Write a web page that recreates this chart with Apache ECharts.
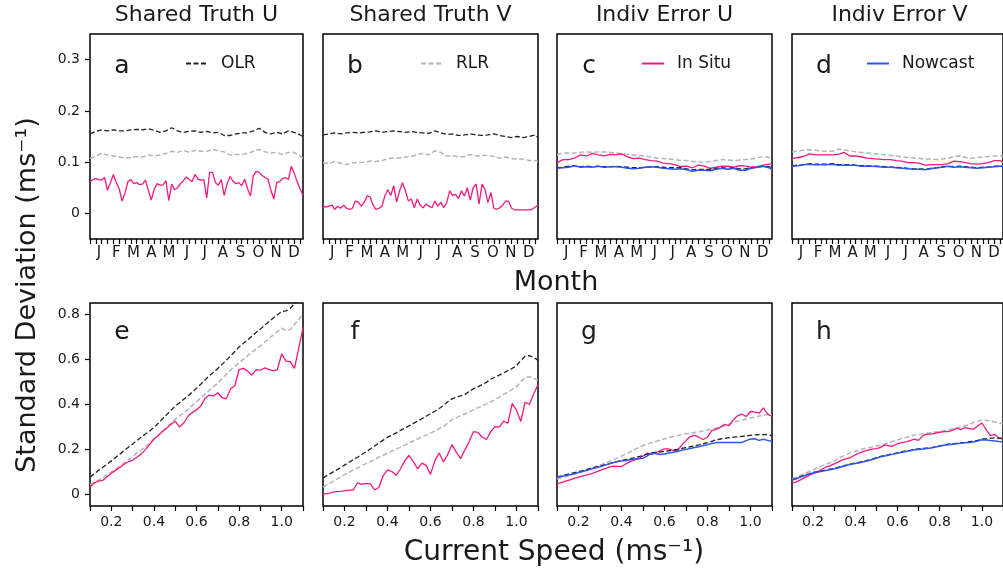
<!DOCTYPE html>
<html><head><meta charset="utf-8">
<script src="https://cdn.jsdelivr.net/npm/echarts@6/dist/echarts.min.js"></script>
<style>html,body{margin:0;padding:0;background:#fff}#c{width:1003px;height:571px}</style>
</head><body><div id="c"></div>
<script>
// ---------- axes / categories ----------
const panelTitles = ['Shared Truth U', 'Shared Truth V', 'Indiv Error U', 'Indiv Error V'];
const panelLetters = ['a', 'b', 'c', 'd', 'e', 'f', 'g', 'h'];
const monthLabels = ['J','F','M','A','M','J','J','A','S','O','N','D'];
const monthCenters = [15.5,45,74.5,105,135.5,166,196.5,227.5,258,288.5,319,349.5];
const dayTicks = [0,10,20,30,40,50,60,70,80,90,100,110,120,130,140,150,160,170,180,190,200,210,220,230,240,250,260,270,280,290,300,310,320,330,340,350,360];
const dayFine = [0,5,10,15,20,25,30,35,40,45,50,55,60,65,70,75,80,85,90,95,100,105,110,115,120,125,130,135,140,145,150,155,160,165,170,175,180,185,190,195,200,205,210,215,220,225,230,235,240,245,250,255,260,265,270,275,280,285,290,295,300,305,310,315,320,325,330,335,340,345,350,355,360,365];
const dayCoarse = [0,10,20,30,40,50,60,70,80,90,100,110,120,130,140,150,160,170,180,190,200,210,220,230,240,250,260,270,280,290,300,310,320,330,340,350,360,365];
const speeds = [0.10,0.12,0.14,0.16,0.18,0.20,0.22,0.24,0.26,0.28,0.30,0.32,0.34,0.36,0.38,0.40,0.42,0.44,0.46,0.48,0.50,0.52,0.54,0.56,0.58,0.60,0.62,0.64,0.66,0.68,0.70,0.72,0.74,0.76,0.78,0.80,0.82,0.84,0.86,0.88,0.90,0.92,0.94,0.96,0.98,1.00,1.02,1.04,1.06,1.08,1.10];
const speedTicks = [0.1,0.2,0.3,0.4,0.5,0.6,0.7,0.8,0.9,1.0,1.1];
const speedLabels = [0.2,0.4,0.6,0.8,1.0];
const topYTicks = [0,0.1,0.2,0.3];
const botYTicks = [0,0.2,0.4,0.6,0.8];

// ---------- top row: std dev vs day of year ----------
const aOLR = [0.155,0.160,0.163,0.161,0.163,0.161,0.161,0.163,0.164,0.163,0.165,0.162,0.158,0.161,0.167,0.161,0.158,0.160,0.161,0.158,0.160,0.157,0.158,0.152,0.152,0.155,0.157,0.157,0.161,0.166,0.158,0.155,0.158,0.155,0.161,0.158,0.153,0.150];
const aRLR = [0.107,0.112,0.117,0.114,0.112,0.110,0.108,0.109,0.111,0.110,0.114,0.112,0.114,0.117,0.121,0.119,0.123,0.119,0.123,0.121,0.121,0.125,0.122,0.120,0.114,0.115,0.115,0.117,0.121,0.125,0.120,0.118,0.119,0.115,0.119,0.119,0.112,0.107];
const aIns = [0.062,0.066,0.068,0.066,0.065,0.070,0.045,0.060,0.076,0.060,
  0.048,0.024,0.040,0.062,0.066,0.058,0.060,0.056,0.057,0.065,
  0.045,0.026,0.047,0.058,0.055,0.055,0.064,0.025,0.057,0.046,
  0.050,0.058,0.064,0.071,0.066,0.062,0.076,0.067,0.065,0.066,
  0.030,0.080,0.080,0.060,0.055,0.066,0.035,0.058,0.072,0.063,
  0.058,0.060,0.054,0.067,0.048,0.034,0.074,0.082,0.080,0.074,
  0.070,0.067,0.045,0.028,0.060,0.062,0.068,0.070,0.066,0.092,
  0.078,0.062,0.048,0.035];
const bOLR = [0.153,0.155,0.157,0.155,0.157,0.158,0.157,0.158,0.159,0.161,0.158,0.1595,0.161,0.1595,0.158,0.1595,0.158,0.157,0.156,0.161,0.157,0.154,0.155,0.152,0.153,0.155,0.153,0.152,0.153,0.155,0.152,0.150,0.148,0.150,0.148,0.150,0.153,0.148];
const bRLR = [0.099,0.097,0.101,0.098,0.095,0.099,0.099,0.100,0.102,0.101,0.103,0.107,0.108,0.108,0.110,0.111,0.115,0.117,0.114,0.122,0.119,0.112,0.113,0.110,0.111,0.115,0.112,0.113,0.113,0.111,0.108,0.110,0.107,0.106,0.106,0.103,0.103,0.101];
const bIns = [0.014,0.012,0.014,0.016,0.008,0.014,0.010,0.016,0.010,0.008,
  0.010,0.024,0.022,0.014,0.022,0.034,0.032,0.016,0.008,0.010,
  0.014,0.034,0.046,0.035,0.054,0.022,0.044,0.060,0.044,0.024,
  0.028,0.011,0.028,0.016,0.011,0.018,0.014,0.011,0.024,0.014,
  0.022,0.011,0.021,0.044,0.035,0.037,0.029,0.044,0.034,0.050,
  0.026,0.050,0.057,0.018,0.057,0.047,0.021,0.041,0.010,0.008,
  0.011,0.016,0.024,0.024,0.010,0.007,0.007,0.007,0.007,0.007,
  0.007,0.008,0.012,0.016];
const cRLR = [0.114,0.118,0.118,0.118,0.119,0.120,0.119,0.120,0.120,0.119,0.118,0.116,0.115,0.114,0.113,0.112,0.110,0.108,0.107,0.106,0.105,0.103,0.103,0.101,0.101,0.099,0.101,0.103,0.105,0.104,0.103,0.104,0.105,0.106,0.108,0.111,0.109,0.107];
const cIns = [0.099,0.105,0.105,0.108,0.114,0.112,0.117,0.114,0.112,0.115,0.114,0.116,0.110,0.107,0.108,0.105,0.103,0.102,0.098,0.097,0.095,0.091,0.092,0.089,0.094,0.092,0.088,0.090,0.092,0.092,0.090,0.093,0.092,0.090,0.091,0.094,0.096,0.096];
const cOLR = [0.089,0.090,0.092,0.093,0.091,0.092,0.091,0.092,0.091,0.091,0.092,0.091,0.090,0.089,0.089,0.090,0.091,0.091,0.090,0.089,0.089,0.089,0.087,0.085,0.086,0.086,0.086,0.088,0.089,0.088,0.089,0.087,0.087,0.089,0.090,0.092,0.091,0.089];
const cNow = [0.088,0.089,0.090,0.093,0.090,0.091,0.090,0.092,0.090,0.091,0.091,0.090,0.088,0.087,0.088,0.090,0.091,0.090,0.088,0.087,0.086,0.087,0.085,0.082,0.084,0.084,0.083,0.086,0.088,0.086,0.088,0.084,0.084,0.088,0.090,0.092,0.089,0.086];
const dRLR = [0.120,0.122,0.123,0.124,0.123,0.122,0.121,0.121,0.125,0.124,0.122,0.120,0.119,0.118,0.117,0.116,0.114,0.113,0.112,0.110,0.109,0.108,0.107,0.106,0.106,0.105,0.106,0.107,0.111,0.112,0.109,0.107,0.109,0.110,0.111,0.112,0.112,0.111];
const dIns = [0.107,0.109,0.111,0.116,0.114,0.114,0.114,0.114,0.115,0.119,0.112,0.112,0.110,0.108,0.107,0.106,0.105,0.105,0.103,0.102,0.099,0.099,0.098,0.094,0.095,0.095,0.095,0.097,0.102,0.101,0.099,0.097,0.096,0.097,0.099,0.103,0.103,0.101];
const dOLR = [0.093,0.094,0.095,0.097,0.096,0.096,0.096,0.097,0.095,0.095,0.095,0.094,0.093,0.093,0.092,0.092,0.091,0.090,0.090,0.089,0.088,0.087,0.087,0.086,0.088,0.089,0.091,0.092,0.091,0.092,0.091,0.090,0.089,0.090,0.090,0.092,0.092,0.092];
const dNow = [0.092,0.093,0.095,0.096,0.095,0.095,0.095,0.096,0.094,0.094,0.094,0.094,0.092,0.092,0.092,0.091,0.090,0.090,0.089,0.088,0.087,0.086,0.086,0.085,0.087,0.089,0.090,0.092,0.090,0.091,0.090,0.089,0.088,0.089,0.090,0.091,0.092,0.092];

// ---------- bottom row: std dev vs current speed ----------
const eOLR = [0.078,0.093,0.108,0.122,0.136,0.150,0.165,0.180,0.195,0.210,0.225,0.240,0.255,0.269,0.283,0.298,0.317,0.336,0.355,0.374,0.393,0.408,0.423,0.438,0.455,0.472,0.490,0.509,0.527,0.543,0.560,0.578,0.596,0.615,0.635,0.655,0.671,0.687,0.703,0.719,0.735,0.751,0.767,0.783,0.798,0.812,0.815,0.825,0.848,0.875,0.900];
const eRLR = [0.045,0.055,0.065,0.076,0.088,0.100,0.114,0.128,0.142,0.156,0.170,0.184,0.198,0.213,0.229,0.245,0.263,0.281,0.299,0.317,0.335,0.349,0.363,0.378,0.395,0.412,0.429,0.446,0.463,0.479,0.495,0.515,0.535,0.553,0.569,0.585,0.601,0.617,0.632,0.646,0.660,0.676,0.692,0.708,0.723,0.738,0.728,0.732,0.755,0.778,0.800];
const eIns = [0.034,0.052,0.060,0.064,0.080,0.095,0.108,0.121,0.135,0.146,0.153,0.166,0.180,0.200,0.222,0.247,0.263,0.280,0.295,0.312,0.326,0.300,0.318,0.348,0.364,0.376,0.393,0.428,0.442,0.438,0.452,0.430,0.425,0.470,0.483,0.555,0.560,0.548,0.530,0.555,0.552,0.562,0.556,0.549,0.555,0.625,0.592,0.590,0.560,0.650,0.740];
const fOLR = [0.074,0.086,0.097,0.108,0.119,0.131,0.143,0.155,0.166,0.178,0.190,0.203,0.216,0.229,0.242,0.255,0.264,0.274,0.285,0.295,0.305,0.316,0.326,0.337,0.348,0.360,0.370,0.382,0.395,0.412,0.425,0.432,0.438,0.445,0.458,0.470,0.478,0.488,0.498,0.512,0.522,0.530,0.540,0.550,0.560,0.572,0.595,0.614,0.617,0.608,0.597];
const fRLR = [0.034,0.045,0.056,0.067,0.078,0.089,0.099,0.109,0.118,0.128,0.138,0.147,0.156,0.166,0.175,0.184,0.193,0.202,0.211,0.220,0.229,0.238,0.247,0.256,0.264,0.273,0.283,0.293,0.303,0.318,0.333,0.342,0.350,0.358,0.367,0.376,0.385,0.394,0.403,0.412,0.421,0.433,0.445,0.456,0.467,0.479,0.500,0.520,0.523,0.515,0.508];
const fIns = [0.003,0.005,0.009,0.014,0.015,0.017,0.020,0.020,0.052,0.046,0.050,0.048,0.021,0.032,0.085,0.110,0.103,0.086,0.114,0.150,0.175,0.147,0.115,0.140,0.130,0.090,0.150,0.185,0.145,0.178,0.222,0.189,0.160,0.199,0.236,0.280,0.276,0.256,0.245,0.280,0.302,0.300,0.326,0.317,0.405,0.375,0.325,0.410,0.400,0.448,0.487];
const gRLR = [0.070,0.075,0.080,0.086,0.092,0.098,0.105,0.111,0.118,0.125,0.132,0.139,0.146,0.154,0.162,0.171,0.180,0.190,0.200,0.209,0.218,0.225,0.230,0.236,0.242,0.248,0.253,0.258,0.262,0.266,0.270,0.272,0.276,0.279,0.283,0.287,0.291,0.296,0.300,0.306,0.313,0.320,0.326,0.331,0.336,0.340,0.344,0.349,0.353,0.355,0.355];
const gIns = [0.048,0.054,0.060,0.066,0.072,0.078,0.084,0.088,0.093,0.100,0.108,0.115,0.121,0.127,0.126,0.125,0.136,0.147,0.153,0.160,0.172,0.184,0.179,0.185,0.196,0.203,0.203,0.196,0.196,0.220,0.240,0.258,0.263,0.255,0.245,0.256,0.284,0.290,0.300,0.312,0.306,0.332,0.350,0.357,0.347,0.369,0.366,0.362,0.385,0.357,0.347];
const gOLR = [0.079,0.083,0.088,0.093,0.098,0.102,0.107,0.112,0.117,0.122,0.127,0.132,0.137,0.142,0.147,0.151,0.155,0.159,0.164,0.169,0.174,0.180,0.186,0.188,0.190,0.192,0.195,0.198,0.201,0.205,0.209,0.213,0.217,0.221,0.226,0.231,0.237,0.243,0.247,0.250,0.253,0.255,0.257,0.259,0.261,0.263,0.265,0.266,0.267,0.266,0.262];
const gNow = [0.077,0.081,0.085,0.089,0.093,0.098,0.103,0.108,0.114,0.119,0.124,0.130,0.136,0.142,0.147,0.150,0.152,0.155,0.158,0.160,0.162,0.172,0.184,0.183,0.178,0.181,0.185,0.188,0.192,0.197,0.201,0.205,0.209,0.213,0.218,0.222,0.227,0.231,0.232,0.232,0.231,0.231,0.231,0.232,0.240,0.247,0.248,0.241,0.246,0.241,0.236];
const hRLR = [0.071,0.078,0.086,0.094,0.102,0.110,0.120,0.128,0.135,0.142,0.150,0.160,0.170,0.180,0.187,0.193,0.199,0.204,0.208,0.212,0.216,0.220,0.225,0.231,0.237,0.243,0.249,0.254,0.259,0.265,0.268,0.270,0.273,0.275,0.278,0.281,0.284,0.288,0.292,0.296,0.300,0.305,0.312,0.319,0.326,0.331,0.330,0.326,0.322,0.318,0.315];
const hIns = [0.050,0.057,0.066,0.076,0.085,0.094,0.101,0.112,0.122,0.128,0.137,0.146,0.155,0.160,0.166,0.177,0.186,0.192,0.198,0.202,0.204,0.210,0.221,0.217,0.216,0.227,0.231,0.234,0.240,0.246,0.241,0.262,0.269,0.269,0.273,0.277,0.280,0.280,0.285,0.295,0.289,0.297,0.293,0.290,0.305,0.318,0.289,0.262,0.268,0.252,0.248];
const hOLR = [0.067,0.073,0.080,0.087,0.093,0.099,0.102,0.106,0.109,0.113,0.117,0.122,0.127,0.132,0.137,0.140,0.144,0.148,0.153,0.158,0.164,0.170,0.174,0.178,0.182,0.186,0.190,0.194,0.197,0.201,0.203,0.205,0.207,0.209,0.213,0.217,0.221,0.224,0.226,0.228,0.230,0.232,0.235,0.237,0.241,0.247,0.248,0.250,0.252,0.250,0.248];
const hNow = [0.065,0.071,0.078,0.085,0.091,0.097,0.100,0.104,0.107,0.111,0.115,0.120,0.125,0.130,0.135,0.138,0.142,0.146,0.151,0.156,0.162,0.168,0.172,0.176,0.180,0.184,0.188,0.192,0.195,0.199,0.201,0.203,0.205,0.207,0.211,0.215,0.219,0.222,0.224,0.226,0.228,0.230,0.232,0.234,0.238,0.244,0.243,0.240,0.238,0.236,0.235];

// ---------- styling / layout ----------
const FONT = 'DejaVu Sans';
const INK = '#1a1a1a';
const lefts = [90, 323, 557, 792];
const widths = [213, 215, 215, 215];
const TOP1 = 34, H1 = 205, TOP2 = 303, H2 = 203;
const styles = {
  OLR: { color: '#222222', width: 1.3, type: [5, 2.5] },
  RLR: { color: '#b5b5b5', width: 1.5, type: [5, 2.5] },
  'In Situ': { color: '#f2197f', width: 1.3, type: 'solid' },
  Nowcast: { color: '#2f55f0', width: 1.5, type: 'solid' }
};

function mk(name, gi, xs, ys) {
  const st = styles[name];
  return {
    type: 'line', name, xAxisIndex: gi, yAxisIndex: gi,
    data: xs.map((x, i) => [x, ys[i]]),
    symbol: 'none', showSymbol: false, silent: true, clip: true,
    color: st.color, itemStyle: { color: st.color },
    lineStyle: { color: st.color, width: st.width, type: st.type }
  };
}

const grids = [], xAxes = [], yAxes = [];
for (let r = 0; r < 2; r++) {
  for (let c = 0; c < 4; c++) {
    const gi = r * 4 + c;
    grids.push({ left: lefts[c], width: widths[c], top: r ? TOP2 : TOP1, height: r ? H2 : H1,
      show: true, borderColor: '#000', borderWidth: 1.5, backgroundColor: 'transparent', containLabel: false });
    const tickStyle = { color: '#000', width: 1.2 };
    const noLine = { show: false, onZero: false };
    if (r === 0) {
      xAxes.push({ type: 'value', gridIndex: gi, min: 0, max: 365, position: 'bottom',
        axisLine: noLine, splitLine: { show: false },
        axisTick: { show: true, customValues: dayTicks, length: 5, lineStyle: tickStyle },
        axisLabel: { customValues: monthCenters, margin: 7, fontSize: 15, color: INK, fontFamily: FONT,
          formatter: v => { let k = 0, b = 1e9; monthCenters.forEach((m, i) => { if (Math.abs(m - v) < b) { b = Math.abs(m - v); k = i; } }); return monthLabels[k]; } } });
      yAxes.push({ type: 'value', gridIndex: gi, min: -0.05, max: 0.35, position: 'left',
        axisLine: noLine, splitLine: { show: false },
        axisTick: { show: c === 0, customValues: topYTicks, length: 5, lineStyle: tickStyle },
        axisLabel: { show: c === 0, customValues: topYTicks, margin: 10, fontSize: 14, color: INK, fontFamily: FONT,
          formatter: v => v === 0 ? '0' : v.toFixed(1) } });
    } else {
      xAxes.push({ type: 'value', gridIndex: gi, min: 0.1, max: 1.1, position: 'bottom',
        axisLine: noLine, splitLine: { show: false },
        axisTick: { show: true, customValues: speedTicks, length: 5, lineStyle: tickStyle },
        axisLabel: { customValues: speedLabels, margin: 9, fontSize: 14, color: INK, fontFamily: FONT,
          formatter: v => v.toFixed(1) } });
      yAxes.push({ type: 'value', gridIndex: gi, min: -0.05, max: 0.85, position: 'left',
        axisLine: noLine, splitLine: { show: false },
        axisTick: { show: c === 0, customValues: botYTicks, length: 5, lineStyle: tickStyle },
        axisLabel: { show: c === 0, customValues: botYTicks, margin: 10, fontSize: 14, color: INK, fontFamily: FONT,
          formatter: v => v === 0 ? '0' : v.toFixed(1) } });
    }
  }
}

const series = [
  mk('OLR', 0, dayCoarse, aOLR), mk('RLR', 0, dayCoarse, aRLR), mk('In Situ', 0, dayFine, aIns),
  mk('OLR', 1, dayCoarse, bOLR), mk('RLR', 1, dayCoarse, bRLR), mk('In Situ', 1, dayFine, bIns),
  mk('RLR', 2, dayCoarse, cRLR), mk('In Situ', 2, dayCoarse, cIns), mk('OLR', 2, dayCoarse, cOLR), mk('Nowcast', 2, dayCoarse, cNow),
  mk('RLR', 3, dayCoarse, dRLR), mk('In Situ', 3, dayCoarse, dIns), mk('OLR', 3, dayCoarse, dOLR), mk('Nowcast', 3, dayCoarse, dNow),
  mk('OLR', 4, speeds, eOLR), mk('RLR', 4, speeds, eRLR), mk('In Situ', 4, speeds, eIns),
  mk('OLR', 5, speeds, fOLR), mk('RLR', 5, speeds, fRLR), mk('In Situ', 5, speeds, fIns),
  mk('RLR', 6, speeds, gRLR), mk('In Situ', 6, speeds, gIns), mk('OLR', 6, speeds, gOLR), mk('Nowcast', 6, speeds, gNow),
  mk('RLR', 7, speeds, hRLR), mk('In Situ', 7, speeds, hIns), mk('OLR', 7, speeds, hOLR), mk('Nowcast', 7, speeds, hNow)
];

const legendNames = ['OLR', 'RLR', 'In Situ', 'Nowcast'];
const legendLefts = [185, 420, 641, 866];
const legends = legendNames.map((n, i) => ({
  data: [n], left: legendLefts[i], top: 55, itemWidth: 22, itemHeight: 14, selectedMode: false,
  padding: 0,
  itemStyle: { color: 'rgba(0,0,0,0)', borderWidth: 0, opacity: 0 },
  textStyle: { fontSize: 17, color: INK, fontFamily: FONT, padding: [0, 0, 0, 8] }
}));

const txt = (x, y, text, size, extra) => Object.assign({
  type: 'text', x, y, silent: true,
  style: { text, fontSize: size, fontFamily: FONT, fill: INK, align: 'center', verticalAlign: 'middle' }
}, extra || {});

const graphics = [];
panelTitles.forEach((t, c) => graphics.push(txt(lefts[c] + widths[c] / 2, 15, t, 22)));
panelLetters.forEach((l, i) => {
  const c = i % 4, r = Math.floor(i / 4);
  graphics.push(txt(lefts[c] + 32, r ? 332 : 66, l, 25));
});
graphics.push(txt(556, 283, 'Month', 27));
graphics.push(txt(554, 553, 'Current Speed (ms\u207B\u00B9)', 28));
graphics.push(txt(28, 295, 'Standard Deviation (ms\u207B\u00B9)', 27, { rotation: Math.PI / 2 }));

const chart = echarts.init(document.getElementById('c'), null, { renderer: 'canvas' });
chart.setOption({
  animation: false,
  backgroundColor: '#ffffff',
  textStyle: { fontFamily: FONT },
  grid: grids, xAxis: xAxes, yAxis: yAxes,
  legend: legends,
  series,
  graphic: graphics
});
</script>
</body></html>
